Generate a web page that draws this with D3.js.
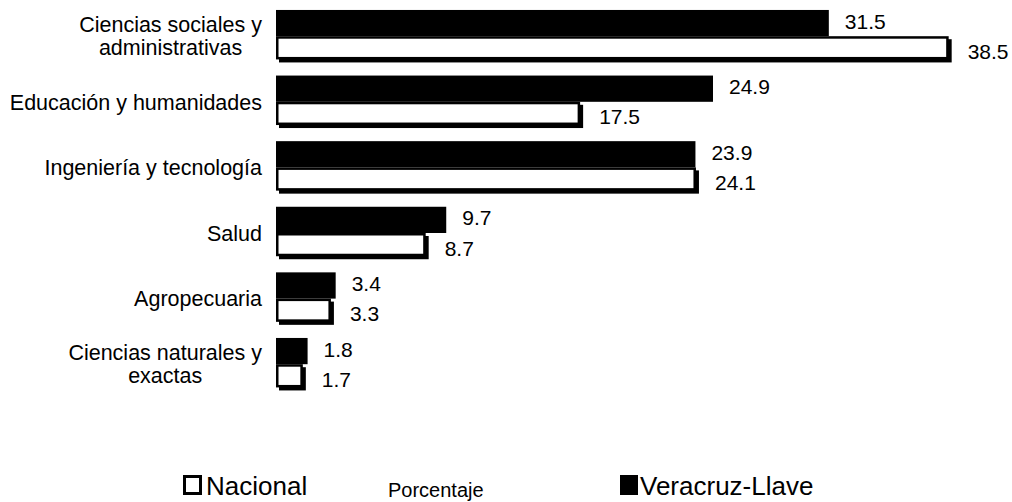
<!DOCTYPE html>
<html>
<head>
<meta charset="utf-8">
<script src="https://cdn.jsdelivr.net/npm/d3@7"></script>
<style>
  html, body { margin: 0; padding: 0; background: #fff; }
  svg { display: block; font-family: "Liberation Sans", Arial, sans-serif; }
</style>
</head>
<body>
<div id="chart"></div>
<script>
// Data
const categories = [
  ["Ciencias sociales y", "administrativas"],
  ["Educación y humanidades"],
  ["Ingeniería y tecnología"],
  ["Salud"],
  ["Agropecuaria"],
  ["Ciencias naturales y", "exactas"]
];
const veracruz = [31.5, 24.9, 23.9, 9.7, 3.4, 1.8];
const nacional = [38.5, 17.5, 24.1, 8.7, 3.3, 1.7];
const seriesNames = ["Nacional", "Veracruz-Llave"];
const axisTitle = "Porcentaje";

const width = 1012, height = 502;

const svg = d3.select("#chart").append("svg")
  .attr("width", width)
  .attr("height", height);

const keys = categories.map((c, i) => i);

const x = d3.scaleLinear().domain([0, 40]).range([276, 978]);
const y = d3.scaleBand()
  .domain(keys)
  .range([3.4, 397])
  .paddingInner(0.2)
  .paddingOuter(0.1);

const sub = d3.scaleBand()
  .domain(["veracruz", "nacional"])
  .range([0, y.bandwidth()])
  .padding(0);

const shadow = 3, stroke = 2.5;

const groups = svg.selectAll("g.group")
  .data(keys)
  .join("g")
  .attr("class", "group")
  .attr("transform", i => `translate(0,${y(i)})`);

// Veracruz bars (black)
groups.append("rect")
  .attr("x", x(0))
  .attr("y", sub("veracruz"))
  .attr("width", i => x(veracruz[i]) - x(0))
  .attr("height", sub.bandwidth())
  .attr("fill", "#000");

// Nacional bars (white with a black shadow)
groups.append("rect")
  .attr("x", x(0) + shadow)
  .attr("y", sub("nacional") + shadow)
  .attr("width", i => x(nacional[i]) - x(0) - shadow)
  .attr("height", sub.bandwidth() - shadow)
  .attr("fill", "#000");

groups.append("rect")
  .attr("x", x(0) + stroke / 2)
  .attr("y", sub("nacional") + stroke / 2)
  .attr("width", i => x(nacional[i]) - x(0) - shadow - stroke)
  .attr("height", sub.bandwidth() - shadow - stroke)
  .attr("fill", "#fff")
  .attr("stroke", "#000")
  .attr("stroke-width", stroke);

// Value labels
groups.append("text")
  .attr("x", i => x(veracruz[i]) + 16)
  .attr("y", sub("veracruz") + sub.bandwidth() / 2 - 2)
  .attr("dy", "0.36em")
  .attr("font-size", 21)
  .text(i => veracruz[i].toFixed(1));

groups.append("text")
  .attr("x", i => x(nacional[i]) + 16)
  .attr("y", sub("nacional") + sub.bandwidth() / 2 + 2)
  .attr("dy", "0.36em")
  .attr("font-size", 21)
  .text(i => nacional[i].toFixed(1));

// Category labels (two-line ones centred, block right aligned)
const labelRight = 262, lineH = 23;
groups.each(function (i) {
  const lines = categories[i];
  const t = d3.select(this).append("text")
    .attr("font-size", 21.5)
    .attr("fill", "#000");
  const y0 = y.bandwidth() / 2 - (lines.length - 1) * lineH / 2;
  lines.forEach((ln, j) => {
    t.append("tspan")
      .attr("y", y0 + j * lineH)
      .attr("dy", "0.36em")
      .text(ln);
  });
  if (lines.length === 1) {
    t.attr("text-anchor", "end").selectAll("tspan").attr("x", labelRight);
  } else {
    let maxW = 0;
    t.selectAll("tspan").each(function () {
      maxW = Math.max(maxW, this.getComputedTextLength());
    });
    t.attr("text-anchor", "middle").selectAll("tspan").attr("x", labelRight - maxW / 2);
  }
});

// Legend
const legend = svg.append("g").attr("class", "legend");
legend.append("rect")
  .attr("x", 184.5).attr("y", 476.5)
  .attr("width", 16).attr("height", 17)
  .attr("fill", "#fff").attr("stroke", "#000").attr("stroke-width", 3);
legend.append("text")
  .attr("x", 206).attr("y", 495)
  .attr("font-size", 26)
  .text(seriesNames[0]);

legend.append("rect")
  .attr("x", 620).attr("y", 475)
  .attr("width", 18).attr("height", 20)
  .attr("fill", "#000");
legend.append("text")
  .attr("x", 640).attr("y", 495)
  .attr("font-size", 26)
  .text(seriesNames[1]);

svg.append("text")
  .attr("x", 388).attr("y", 497)
  .attr("font-size", 20)
  .text(axisTitle);
</script>
</body>
</html>
